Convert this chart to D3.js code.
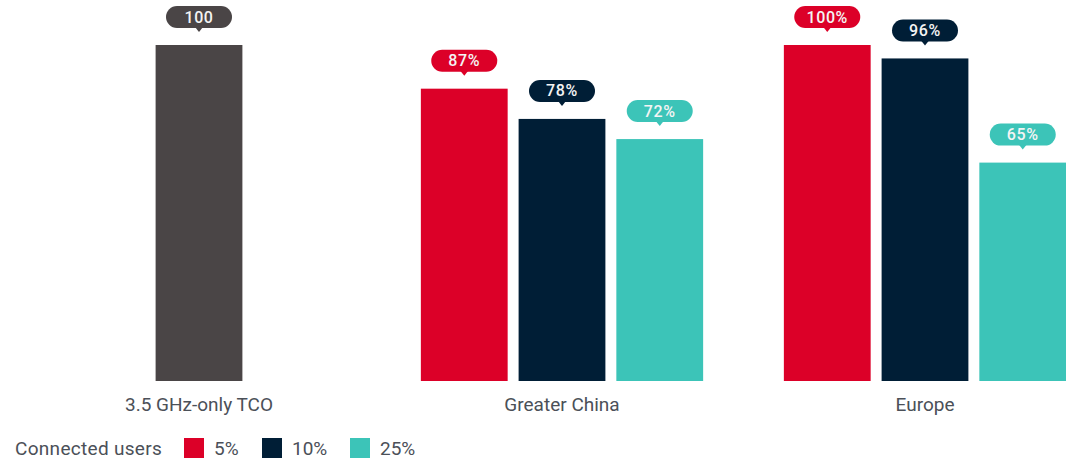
<!DOCTYPE html>
<html>
<head>
<meta charset="utf-8">
<script src="https://cdn.jsdelivr.net/npm/d3@7"></script>
<style>
  html, body { margin: 0; padding: 0; background: #ffffff; }
  svg { display: block; }
  text { font-family: Roboto, "Noto Sans", sans-serif; }
</style>
</head>
<body>
<svg id="chart" width="1066" height="461"></svg>
<script>
// Category groups along the x axis
const categories = ["3.5 GHz-only TCO", "Greater China", "Europe"];
// Connected-user shares (legend series)
const seriesNames = ["5%", "10%", "25%"];
const seriesColors = ["#dc0028", "#001e36", "#3cc4b8"];
// Baseline TCO index
const baselineValue = [100];
const baselineColor = "#4a4546";
// Relative TCO per region, one value per series
const greaterChinaValues = [87, 78, 72];
const europeValues = [100, 96, 65];
const legendTitle = "Connected users";

const W = 1066, H = 461;
const svg = d3.select("#chart");

const groups = [
  { name: categories[0], bars: baselineValue.map(v => ({ key: null, value: v, color: baselineColor, label: String(v) })) },
  { name: categories[1], bars: greaterChinaValues.map((v, i) => ({ key: seriesNames[i], value: v, color: seriesColors[i], label: v + "%" })) },
  { name: categories[2], bars: europeValues.map((v, i) => ({ key: seriesNames[i], value: v, color: seriesColors[i], label: v + "%" })) }
];

// Outer scale: one band per category
const x0 = d3.scaleBand().domain(categories).range([17.5, 1106.5]).padding(0);
// Inner scale: series offsets around the category centre
const x1 = d3.scaleBand().domain(seriesNames).range([-147, 147]).paddingInner(0.112).paddingOuter(0.06);
const y = d3.scaleLinear().domain([0, 100]).range([381, 45]);

const bw = x1.bandwidth();

const g = svg.append("g");

groups.forEach(grp => {
  const cx = x0(grp.name) + x0.bandwidth() / 2;
  grp.bars.forEach(b => {
    const left = b.key === null ? cx - bw / 2 : cx + x1(b.key);
    const top = y(b.value);
    g.append("rect")
      .attr("x", left).attr("y", top)
      .attr("width", bw).attr("height", y(0) - top)
      .attr("fill", b.color);

    // Callout pill with pointer above the bar
    const mid = left + bw / 2;
    const pillW = 66, pillH = 22;
    const pillBottom = top - 17;
    const pill = g.append("g");
    pill.append("rect")
      .attr("x", mid - pillW / 2).attr("y", pillBottom - pillH)
      .attr("width", pillW).attr("height", pillH)
      .attr("rx", 11).attr("ry", 11)
      .attr("fill", b.color);
    pill.append("path")
      .attr("d", `M${mid - 4},${pillBottom - 1} L${mid + 4},${pillBottom - 1} L${mid},${pillBottom + 4} Z`)
      .attr("fill", b.color);
    pill.append("text")
      .attr("x", mid).attr("y", pillBottom - pillH / 2 + 5.5)
      .attr("text-anchor", "middle")
      .attr("fill", "#f4f4f4")
      .attr("font-size", 16)
      .attr("font-weight", 500)
      .attr("letter-spacing", 0.6)
      .text(b.label);
  });
});

// Category labels
const xAxis = d3.axisBottom(x0).tickSize(0).tickPadding(0);
const axisG = svg.append("g").attr("transform", "translate(0,381)").call(xAxis);
axisG.select(".domain").remove();
axisG.selectAll("text")
  .attr("y", 30)
  .attr("dy", 0)
  .attr("fill", "#4b5058")
  .attr("font-size", 19)
  .style("font-family", "Roboto, 'Noto Sans', sans-serif");

// Legend
const legend = svg.append("g");
legend.append("text")
  .attr("x", 15).attr("y", 455)
  .attr("fill", "#4b5058").attr("font-size", 19)
  .attr("letter-spacing", 0.3)
  .text(legendTitle);
const swatchX = [184, 262, 350];
seriesNames.forEach((s, i) => {
  legend.append("rect")
    .attr("x", swatchX[i]).attr("y", 438)
    .attr("width", 20).attr("height", 20)
    .attr("fill", seriesColors[i]);
  legend.append("text")
    .attr("x", swatchX[i] + 30).attr("y", 455)
    .attr("fill", "#4b5058").attr("font-size", 19)
    .text(s);
});
</script>
</body>
</html>
